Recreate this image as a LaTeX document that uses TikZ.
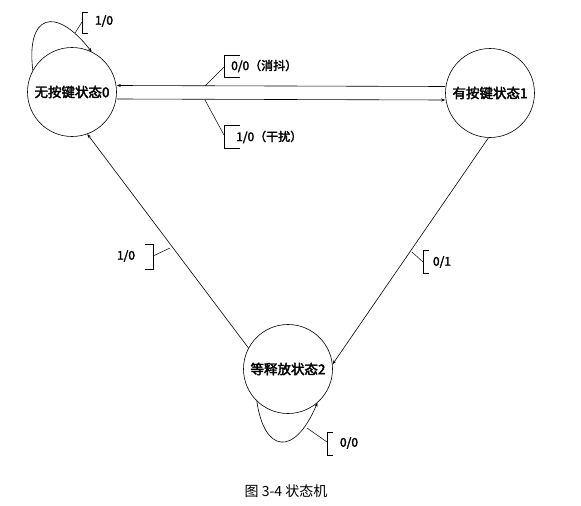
\documentclass[tikz,border=0pt]{standalone}
\usepackage{fontspec}
\newfontfamily\cjk{Noto Sans CJK SC}
\newfontfamily\cjkb{Noto Sans CJK SC}[FakeBold=2.5]
\usetikzlibrary{arrows.meta}
\begin{document}
\begin{tikzpicture}[x=1pt,y=-1pt,
  state/.style={draw,circle,line width=0.6pt,minimum size=89pt,inner sep=0pt,font=\cjkb\fontsize{13.5}{14}\selectfont},
  edge/.style={line width=0.6pt,-{Stealth[length=4pt,width=3pt]}},
  tick/.style={line width=0.5pt},
  lbl/.style={font=\cjkb\fontsize{12}{13}\selectfont,inner sep=0pt}]
\useasboundingbox (0,0) rectangle (581,506);
\node[state] (s0) at (72,92) {无按键状态0};
\node[state] (s1) at (490,93) {有按键状态1};
\node[state] (s2) at (288,369) {等释放状态2};
% horizontal edges
\draw[edge] ([yshift=6.5pt]s1.west) -- ([yshift=6.5pt]s0.east);
\draw[edge] ([yshift=-7pt]s0.east) -- ([yshift=-7pt]s1.west);
% diagonal edges
\draw[edge] (s2.152) -- (s0.-70);
\draw[edge] (s1.-92) -- (s2.6);
% self loops
\draw[edge] (s0.151) .. controls (26,15) and (55,5) .. (s0.64);
\draw[edge] (s2.-134) .. controls (264,452) and (294,458) .. (s2.-49);
% label: loop s0
\draw[tick] (75,33) -- (82,22);
\draw[tick] (88,12) -- (82,12) -- (82,33) -- (88,33);
\node[lbl] (l1) at (104,21) {1/0};
% label: 0/0 消抖
\draw[tick] (205,86) -- (224,67);
\draw[tick] (240,55) -- (224,55) -- (224,77) -- (240,77);
\node[lbl,anchor=west] (l2) at (231,66) {0/0（消抖）};
% label: 1/0 干扰
\draw[tick] (205,100) -- (224,135);
\draw[tick] (240,125) -- (224,125) -- (224,148) -- (240,148);
\node[lbl,anchor=west] (l3) at (236,137) {1/0（干扰）};
% label: 1/0 left
\draw[tick] (170,248) -- (153,256);
\draw[tick] (145,244) -- (153,244) -- (153,269) -- (145,269);
\node[lbl] (l4) at (126,256) {1/0};
% label: 0/1
\draw[tick] (412,252) -- (423,262);
\draw[tick] (429,250) -- (423,250) -- (423,273) -- (429,273);
\node[lbl] (l5) at (442,262) {0/1};
% label: 0/0 bottom
\draw[tick] (307,428) -- (327,442);
\draw[tick] (333,432) -- (327,432) -- (327,455) -- (333,455);
\node[lbl] (l6) at (349,443) {0/0};
% caption
\node[font=\cjk\fontsize{14}{16}\selectfont,inner sep=0pt] (cap) at (286,491) {图 3-4 状态机};
\end{tikzpicture}
\end{document}
